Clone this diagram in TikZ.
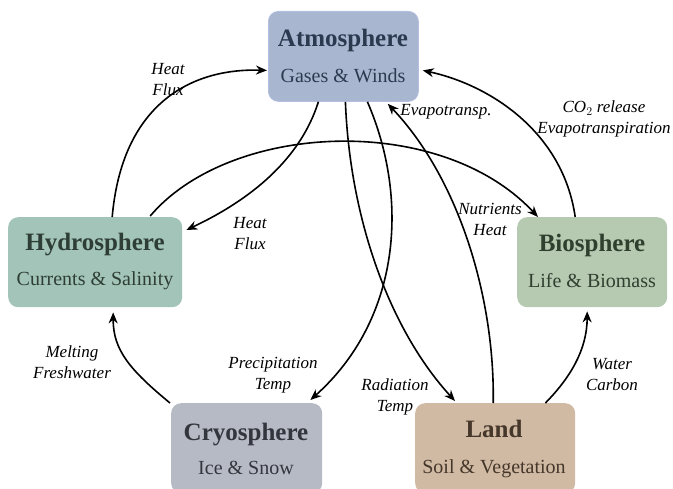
\documentclass[tikz,border=0pt]{standalone}
\usepackage{fontspec}
\setmainfont{Liberation Serif}
\usetikzlibrary{arrows.meta,calc}
\definecolor{atmfill}{HTML}{A8B6D0}
\definecolor{atmline}{HTML}{B4BEE0}
\definecolor{atmtext}{HTML}{2C3A50}
\definecolor{hydfill}{HTML}{A3C4B8}
\definecolor{hydtext}{HTML}{2E3E36}
\definecolor{biofill}{HTML}{B6CAB2}
\definecolor{biotext}{HTML}{2F402F}
\definecolor{cryfill}{HTML}{B6BAC4}
\definecolor{crytext}{HTML}{33363D}
\definecolor{lndfill}{HTML}{D1BAA4}
\definecolor{lndtext}{HTML}{45372A}
\begin{document}
\begin{tikzpicture}[x=1pt,y=-1pt,
  spherebox/.style={rounded corners=10pt, minimum height=90pt, inner sep=0pt, anchor=north west, draw=none},
  titletext/.style={anchor=base, inner sep=0pt, font=\fontsize{25}{30}\selectfont\bfseries},
  subtext/.style={anchor=base, inner sep=0pt, font=\fontsize{20}{24}\selectfont},
  flow/.style={line width=1.6pt, -{Stealth[length=11pt,width=9pt]}},
  lbl/.style={align=center, inner sep=0pt, font=\fontsize{17}{21}\selectfont\itshape}
]
\clip (0,0) rectangle (673,489);
\useasboundingbox (0,0) rectangle (673,489);

% boxes
\node[spherebox, minimum width=150pt, fill=atmfill, draw=atmline, line width=0.8pt] (atm) at (268,11) {};
\node[spherebox, minimum width=174pt, fill=hydfill] (hyd) at (8,217) {};
\node[spherebox, minimum width=150pt, fill=biofill] (bio) at (517,217) {};
\node[spherebox, minimum width=151pt, fill=cryfill] (cry) at (171,403) {};
\node[spherebox, minimum width=160pt, fill=lndfill] (lnd) at (415,403) {};

% box texts
\node[titletext, text=atmtext] (atmT) at (343,47) {Atmosphere};
\node[subtext, text=atmtext] (atmS) at (343,83) {Gases \& Winds};
\node[titletext, text=hydtext] (hydT) at (95,251) {Hydrosphere};
\node[subtext, text=hydtext] (hydS) at (95,286) {Currents \& Salinity};
\node[titletext, text=biotext] (bioT) at (592,252) {Biosphere};
\node[subtext, text=biotext] (bioS) at (592,288) {Life \& Biomass};
\node[titletext, text=crytext] (cryT) at (246,440) {Cryosphere};
\node[subtext, text=crytext] (cryS) at (246,475) {Ice \& Snow};
\node[titletext, text=lndtext] (lndT) at (494,438) {Land};
\node[subtext, text=lndtext] (lndS) at (494,473) {Soil \& Vegetation};

% connectors
\draw[flow] ($(hyd.north)+(17,0)$) .. controls (122,105) and (190,68) .. ($(atm.west)+(-1,14)$);
\draw[flow] ($(atm.south)+(-25,0)$) .. controls (300,160) and (250,200) .. ($(hyd.north east)+(4,13)$);
\draw[flow] ($(hyd.north)+(55,-1)$) .. controls (230,122) and (440,112) .. ($(bio.north west)+(21,0)$);
\draw[flow] ($(atm.south)+(24,0)$) .. controls (410,200) and (400,320) .. ($(cry.north east)+(-12,-3)$);
\draw[flow] ($(atm.south)+(2,0)$) .. controls (350,220) and (390,330) .. ($(lnd.north west)+(40,-2)$);
\draw[flow] ($(lnd.north)+(-2,0)$) .. controls (495,300) and (460,180) .. ($(atm.south east)+(-31,2)$);
\draw[flow] ($(bio.north)+(-17,0)$) .. controls (563,132) and (490,85) .. ($(atm.east)+(4,14)$);
\draw[flow] ($(cry.north west)+(-1,0)$) .. controls (130,370) and (113,350) .. ($(hyd.south)+(18,5)$);
\draw[flow] ($(lnd.north east)+(-30,0)$) .. controls (570,378) and (587,350) .. ($(bio.south)+(-5,4)$);

% labels
\node[lbl] (l1) at (168,80) {Heat\\Flux};
\node[lbl] (l2) at (250,234) {Heat\\Flux};
\node[lbl] (l3) at (446,112) {Evapotransp.};
\node[lbl] (l4) at (490,219) {Nutrients\\Heat};
\node[lbl] (l5) at (604,119) {CO$_2$ release\\Evapotranspiration};
\node[lbl] (l6) at (72,362) {Melting\\Freshwater};
\node[lbl] (l7) at (273,375) {Precipitation\\Temp};
\node[lbl] (l8) at (395,397) {Radiation\\Temp};
\node[lbl] (l9) at (612,375) {Water\\Carbon};
\end{tikzpicture}
\end{document}
